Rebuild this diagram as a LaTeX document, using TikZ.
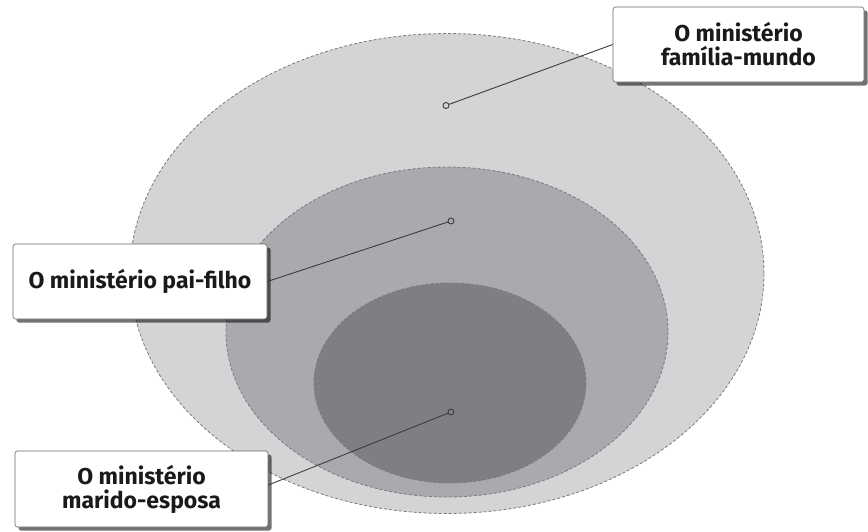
\documentclass[tikz,border=0pt]{standalone}
\usepackage{fontspec}
\setmainfont{Fira Sans}
\usetikzlibrary{shadows}
\definecolor{outerc}{HTML}{D4D4D6}
\definecolor{midc}{HTML}{A9AAAD}
\definecolor{innerc}{HTML}{7E7F82}
\definecolor{edgec}{HTML}{7A7A7A}
\definecolor{linec}{HTML}{3C3C3C}
\definecolor{textc}{HTML}{1A1A1A}
\tikzset{
  zone/.style={draw=edgec, line width=0.8pt, dash pattern=on 3pt off 2pt},
  dot/.style={circle, draw=linec, line width=0.9pt, inner sep=0pt, minimum size=6pt},
  leader/.style={draw=linec, line width=0.9pt},
  labelbox/.style={draw=gray!80!black, line width=0.6pt, fill=white, rounded corners=2.5pt,
    align=center, text=textc, inner sep=0pt,
    font=\fontsize{23}{24}\selectfont\bfseries,
    drop shadow={shadow xshift=3.5pt, shadow yshift=-3.5pt, fill=black, opacity=0.55}},
}
\begin{document}
\begin{tikzpicture}[x=1pt,y=-1pt]
\useasboundingbox (0,0) rectangle (868,531);
\fill[white] (0,0) rectangle (868,531);
\path[zone, fill=outerc] (447,273.5) ellipse [x radius=317, y radius=240];
\path[zone, fill=midc] (447,332) ellipse [x radius=221, y radius=165];
\path[zone, fill=innerc] (450,383) ellipse [x radius=136, y radius=100];
\node[dot, fill=outerc] (d1) at (446,105.5) {};
\node[dot, fill=midc] (d2) at (451,221) {};
\node[dot, fill=innerc] (d3) at (451,412) {};
\node[labelbox, minimum width=251pt, minimum height=75pt] (b1) at (738.5,44.5) {O ministério\\família-mundo};
\node[labelbox, minimum width=254pt, minimum height=75pt] (b2) at (140,281.5) {O ministério pai-filho};
\node[labelbox, minimum width=253pt, minimum height=76pt] (b3) at (141.5,489) {O ministério\\marido-esposa};
\draw[leader] (d1) -- (b1.west);
\draw[leader] (d2) -- (b2.east);
\draw[leader] (d3) -- ([yshift=4pt]b3.east);
\end{tikzpicture}
\end{document}
